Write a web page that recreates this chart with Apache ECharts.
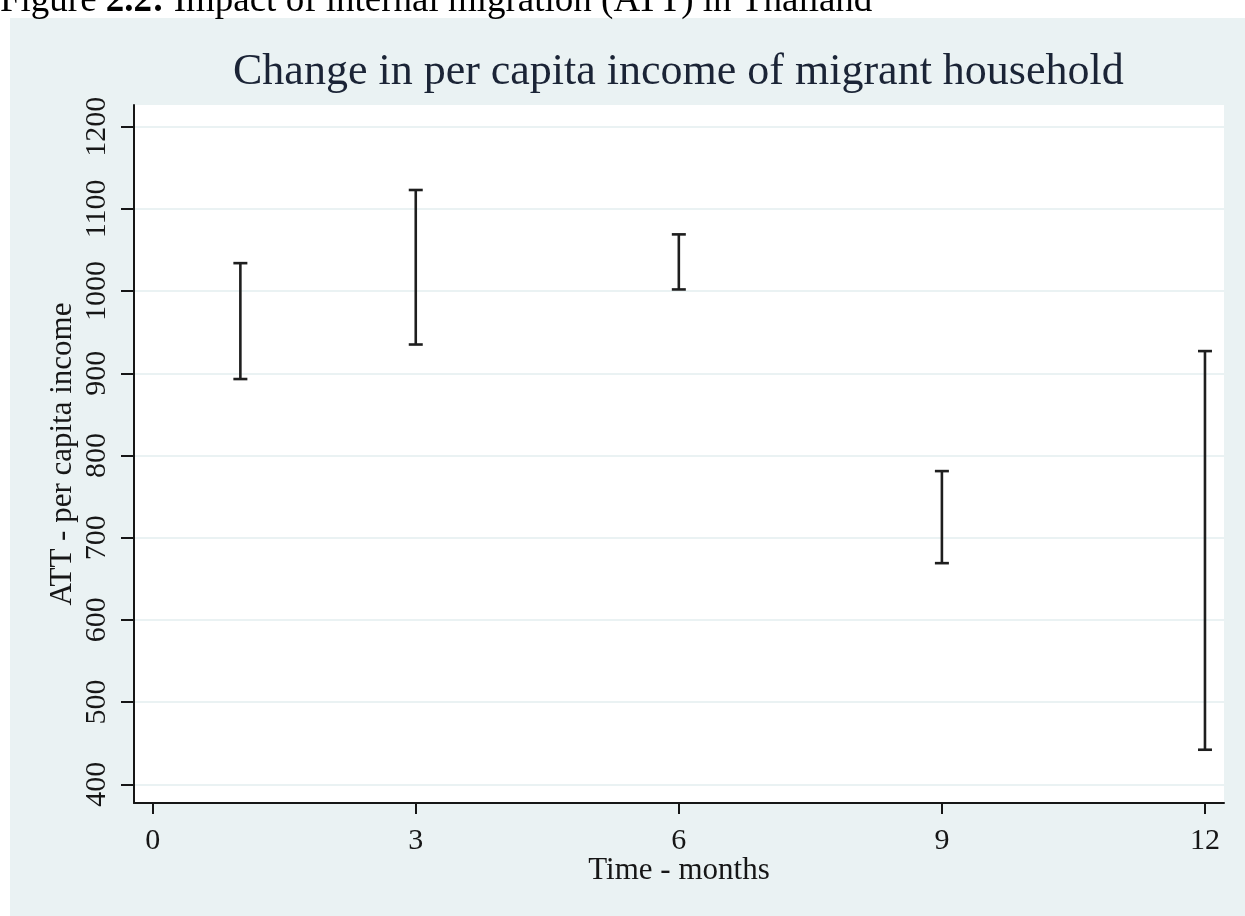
<!DOCTYPE html>
<html>
<head>
<meta charset="utf-8">
<script src="https://cdn.jsdelivr.net/npm/echarts@6/dist/echarts.min.js"></script>
<style>
  html, body { margin: 0; padding: 0; background: #fff; }
  #chart { width: 1245px; height: 916px; }
</style>
</head>
<body>
<div id="chart"></div>
<script>
// ATT confidence intervals by month
const months = [1, 3, 6, 9, 12];
const ciLow = [893, 935, 1002, 669, 442];
const ciHigh = [1034, 1123, 1069, 781, 927];

const xTicks = [0, 3, 6, 9, 12];
const yTicks = [400, 500, 600, 700, 800, 900, 1000, 1100, 1200];

const serif = "'Liberation Serif', 'Times New Roman', serif";
const ink = '#161616';
const panel = '#EAF2F3';

const barData = months.map((m, i) => [m, ciLow[i], ciHigh[i]]);

const chart = echarts.init(document.getElementById('chart'));

const option = {
    backgroundColor: '#fff',
    animation: false,
    graphic: [
        {
            type: 'rect',
            z: -10,
            silent: true,
            shape: { x: 10, y: 18, width: 1235, height: 898 },
            style: { fill: panel }
        }
    ],
    title: [
        {
            // caption of the figure, cut off at the top of the picture
            text: '{r|Figure }{b|2.2:}{r| Impact of internal migration (ATT) in Thailand}',
            left: 0,
            top: -17,
            padding: 0,
            textStyle: {
                fontWeight: 'normal',
                rich: {
                    r: { fontFamily: serif, fontSize: 37, fontWeight: 'normal', color: '#000' },
                    b: { fontFamily: serif, fontSize: 37, fontWeight: 'bold', color: '#000' }
                }
            }
        },
        {
            text: 'Change in per capita income of migrant household',
            left: 233,
            top: 50,
            padding: 0,
            textStyle: {
                fontFamily: serif,
                fontSize: 44,
                fontWeight: 'normal',
                color: '#1b2436'
            }
        }
    ],
    grid: {
        left: 134,
        top: 105,
        right: 21,
        bottom: 113,
        show: true,
        backgroundColor: '#fff',
        borderWidth: 0,
        outerBoundsMode: 'none'
    },
    xAxis: {
        type: 'value',
        min: -0.213,
        max: 12.217,
        name: 'Time - months',
        nameLocation: 'middle',
        nameGap: 52,
        nameMoveOverlap: false,
        nameTextStyle: { fontFamily: serif, fontSize: 31, color: ink },
        axisLine: { show: true, onZero: false, lineStyle: { color: ink, width: 2 } },
        axisTick: { show: true, length: 11, customValues: xTicks, lineStyle: { color: ink, width: 2 } },
        axisLabel: { customValues: xTicks, fontFamily: serif, fontSize: 30, color: ink, margin: 23 },
        splitLine: { show: false }
    },
    yAxis: {
        type: 'value',
        min: 377.2,
        max: 1226.4,
        name: 'ATT - per capita income',
        nameLocation: 'middle',
        nameGap: 56,
        nameMoveOverlap: false,
        nameTextStyle: { fontFamily: serif, fontSize: 31, color: ink },
        axisLine: { show: true, onZero: false, lineStyle: { color: ink, width: 2 } },
        axisTick: { show: true, length: 13, customValues: yTicks, lineStyle: { color: ink, width: 2 } },
        axisLabel: {
            customValues: yTicks,
            rotate: 90,
            formatter: v => String(v),
            fontFamily: serif,
            fontSize: 30,
            color: ink,
            margin: 22
        },
        splitLine: { show: true, lineStyle: { color: panel, width: 2 } }
    },
    series: [
        {
            type: 'custom',
            data: barData,
            encode: { x: 0, y: [1, 2] },
            renderItem: function (params, api) {
                const x = api.value(0);
                const lo = api.coord([x, api.value(1)]);
                const hi = api.coord([x, api.value(2)]);
                const half = 7;
                const style = { stroke: '#1e1e1e', lineWidth: 2.6 };
                return {
                    type: 'group',
                    children: [
                        { type: 'line', shape: { x1: lo[0], y1: lo[1], x2: hi[0], y2: hi[1] }, style: style },
                        { type: 'line', shape: { x1: hi[0] - half, y1: hi[1], x2: hi[0] + half, y2: hi[1] }, style: style },
                        { type: 'line', shape: { x1: lo[0] - half, y1: lo[1], x2: lo[0] + half, y2: lo[1] }, style: style }
                    ]
                };
            }
        }
    ]
};

chart.setOption(option);
window.addEventListener('resize', function () {
    chart.resize();
});
</script>
</body>
</html>
